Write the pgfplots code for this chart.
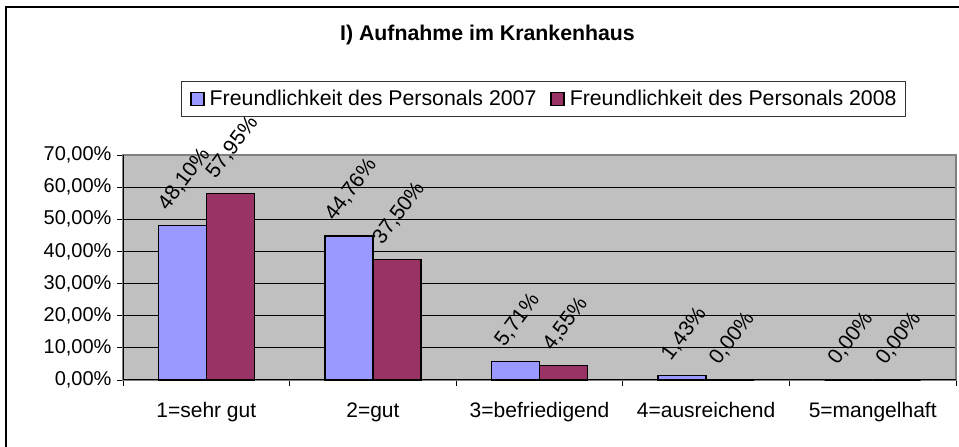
\documentclass[border=0pt]{standalone}
\usepackage{pgfplots}
\pgfplotsset{compat=1.18}
\usepackage{fontspec}
\setmainfont{Liberation Sans}
\newcommand\f{\fontsize{21}{25}\selectfont}
\newcommand\ft{\fontsize{20}{24}\selectfont}
\definecolor{c07}{HTML}{9999FF}
\definecolor{c08}{HTML}{993366}
\definecolor{plotbg}{HTML}{C0C0C0}
\begin{document}
\begin{tikzpicture}[x=1pt,y=1pt]
\useasboundingbox (0,0) rectangle (959,447);
\fill[white] (0,0) rectangle (959,447);
\draw[line width=1.3pt] (6,-20) -- (6,440) -- (980,440);
\node[font=\fontsize{21.3}{25}\selectfont\bfseries] at (487.5,412) {I) Aufnahme im Krankenhaus};
\begin{axis}[
  at={(123pt,67pt)}, anchor=south west, scale only axis,
  width=833pt, height=225pt,
  xmin=-0.5, xmax=4.5, ymin=0, ymax=70,
  ybar=0pt, bar width=48pt,
  clip=false,
  axis background/.style={fill=plotbg},
  axis line style={draw=gray, line width=1.5pt},
  tick pos=left,
  tick align=outside,
  major tick length=6pt,
  tick style={black, line width=0.9pt},
  ytick={0,10,...,70},
  yticklabels={{0,00\%},{10,00\%},{20,00\%},{30,00\%},{40,00\%},{50,00\%},{60,00\%},{70,00\%}},
  yticklabel style={font=\ft, xshift=-2pt},
  ymajorgrids,
  major grid style={black, line width=0.8pt},
  xtick={-0.5,0.5,...,4.5},
  xticklabels={},
  extra x ticks={0,1,2,3,4},
  extra x tick labels={1=sehr gut,2=gut,3=befriedigend,4=ausreichend,5=mangelhaft},
  extra x tick style={tick style={draw=none}, xticklabel style={font=\f, yshift=-13pt}},
  nodes near coords={\rotatebox{53}{\pgfmathprintnumber[fixed,fixed zerofill,precision=2,use comma,assume math mode=true]{\pgfplotspointmeta}\%}},
  nodes near coords style={font=\f, black, anchor=south, yshift=12pt, xshift=2pt, inner sep=0pt},
  legend columns=2,
  legend style={at={(0.5048,1.249)}, anchor=center, draw=black!80, line width=0.8pt,
    font=\fontsize{21.3}{25}\selectfont, inner xsep=9pt, inner ysep=5pt,
    nodes={inner xsep=0pt, inner ysep=4pt},
    /tikz/every odd column/.append style={column sep=5pt},
    /tikz/every even column/.append style={column sep=14pt}},
  legend image code/.code={\draw[#1, line width=1.3pt] (0pt,-6.5pt) rectangle (13pt,6.5pt);},
  after end axis/.code={\draw[black, line width=1pt] (rel axis cs:0,1) -- (rel axis cs:0,0) -- (rel axis cs:1,0);},
]
\addplot[fill=c07, draw=black, line width=1.3pt] coordinates {(0,48.10) (1,44.76) (2,5.71) (3,1.43) (4,0)};
\addlegendentry{Freundlichkeit des Personals 2007}
\addplot[fill=c08, draw=black, line width=1.3pt] coordinates {(0,57.95) (1,37.50) (2,4.55) (3,0) (4,0)};
\addlegendentry{Freundlichkeit des Personals 2008}
\end{axis}
\end{tikzpicture}
\end{document}
